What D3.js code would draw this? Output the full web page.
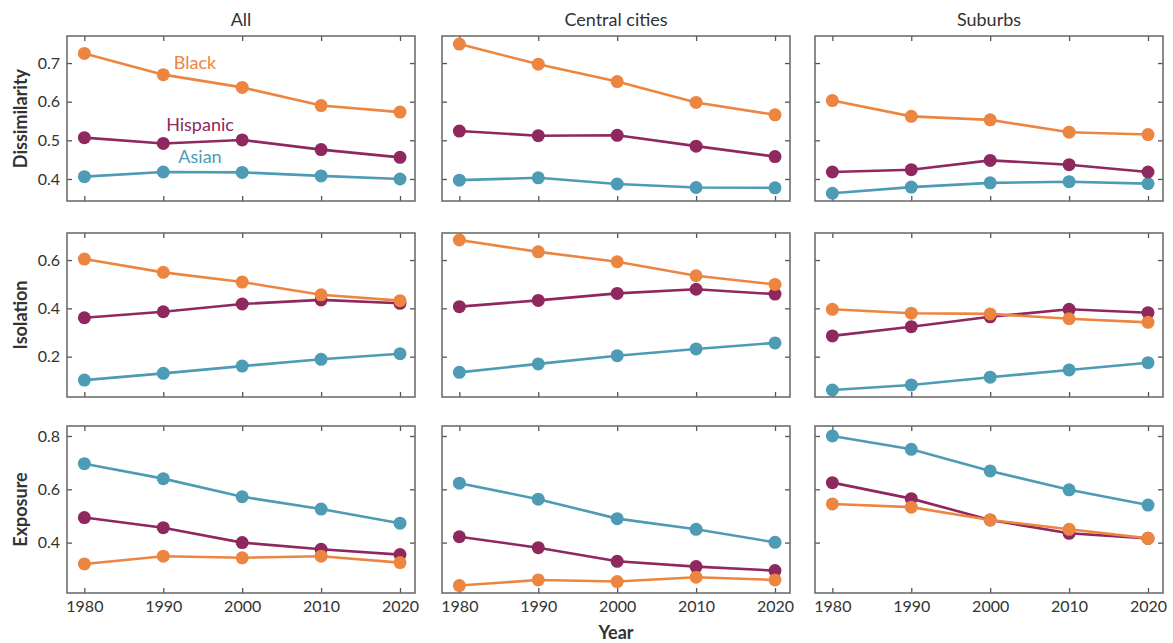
<!DOCTYPE html>
<html>
<head>
<meta charset="utf-8">
<script src="https://cdn.jsdelivr.net/npm/d3@7"></script>
<style>
  body { margin: 0; background: #fff; }
  svg text { font-family: Lato, "Open Sans", sans-serif; fill: #333; }
</style>
</head>
<body>
<div id="graph"></div>
<script>
const years = [1980, 1990, 2000, 2010, 2020];
const groups = ['Black', 'Hispanic', 'Asian'];
const columns = ['All', 'Central cities', 'Suburbs'];
const measures = ['Dissimilarity', 'Isolation', 'Exposure'];

// values per group: [Black, Hispanic, Asian]
const dissAll     = [[0.725, 0.670, 0.637, 0.590, 0.573], [0.507, 0.492, 0.501, 0.476, 0.456], [0.406, 0.418, 0.417, 0.408, 0.400]];
const dissCentral = [[0.749, 0.697, 0.652, 0.598, 0.566], [0.524, 0.512, 0.513, 0.485, 0.458], [0.397, 0.403, 0.387, 0.378, 0.377]];
const dissSuburbs = [[0.603, 0.562, 0.553, 0.521, 0.515], [0.418, 0.424, 0.448, 0.437, 0.418], [0.363, 0.379, 0.390, 0.393, 0.388]];

const isoAll     = [[0.604, 0.549, 0.509, 0.456, 0.432], [0.361, 0.386, 0.418, 0.435, 0.421], [0.103, 0.131, 0.161, 0.189, 0.212]];
const isoCentral = [[0.683, 0.634, 0.593, 0.535, 0.499], [0.407, 0.433, 0.462, 0.479, 0.459], [0.135, 0.170, 0.204, 0.232, 0.257]];
const isoSuburbs = [[0.396, 0.380, 0.377, 0.357, 0.342], [0.286, 0.324, 0.365, 0.396, 0.382], [0.062, 0.083, 0.115, 0.145, 0.175]];

const expAll     = [[0.320, 0.349, 0.343, 0.349, 0.325], [0.494, 0.456, 0.400, 0.375, 0.355], [0.696, 0.640, 0.572, 0.526, 0.473]];
const expCentral = [[0.239, 0.260, 0.254, 0.270, 0.260], [0.422, 0.381, 0.330, 0.310, 0.295], [0.623, 0.563, 0.490, 0.450, 0.401]];
const expSuburbs = [[0.545, 0.533, 0.485, 0.450, 0.416], [0.625, 0.565, 0.485, 0.435, 0.416], [0.800, 0.750, 0.669, 0.598, 0.541]];

const panels = [
  [dissAll, dissCentral, dissSuburbs],
  [isoAll, isoCentral, isoSuburbs],
  [expAll, expCentral, expSuburbs]
];

const yDomains = [[0.343, 0.770], [0.033, 0.712], [0.211, 0.8375]];
const yTicks = [[0.4, 0.5, 0.6, 0.7], [0.2, 0.4, 0.6], [0.4, 0.6, 0.8]];

const colors = {Black: '#EC8540', Hispanic: '#8E285E', Asian: '#4D9BB4'};

const w = 1173, h = 643;
const colX = [67, 442, 815];
const panelW = 348;
const rowY = [36, 233, 426];
const rowH = [165, 164, 167];

const svg = d3.select('#graph').append('svg')
  .attr('width', w).attr('height', h);

const xScale = d3.scaleLinear().domain([1977.8, 2021.9]).range([0, panelW]);

panels.forEach((row, r) => {
  const yScale = d3.scaleLinear().domain(yDomains[r]).range([rowH[r], 0]);

  row.forEach((series, c) => {
    const g = svg.append('g')
      .attr('transform', 'translate(' + colX[c] + ',' + rowY[r] + ')');

    // inward ticks on all sides
    g.append('g')
      .call(d3.axisLeft(yScale).tickValues(yTicks[r]).tickSizeInner(-5).tickSizeOuter(0)
        .tickPadding(7).tickFormat(c === 0 ? d3.format('.1f') : ''));
    g.append('g').attr('transform', 'translate(' + panelW + ',0)')
      .call(d3.axisRight(yScale).tickValues(yTicks[r]).tickSizeInner(-5).tickSizeOuter(0).tickFormat(''));
    g.append('g')
      .call(d3.axisTop(xScale).tickValues(years).tickSizeInner(-5).tickSizeOuter(0).tickFormat(''));
    g.append('g').attr('transform', 'translate(0,' + rowH[r] + ')')
      .call(d3.axisBottom(xScale).tickValues(years).tickSizeInner(-5).tickSizeOuter(0)
        .tickPadding(8).tickFormat(r === 2 ? d3.format('d') : ''));

    g.selectAll('.domain').remove();
    g.selectAll('.tick line').attr('stroke', '#555').attr('stroke-width', 1.3);
    g.selectAll('.tick text').style('font-size', '16px').attr('fill', '#333');

    g.append('rect')
      .attr('width', panelW).attr('height', rowH[r])
      .attr('fill', 'none').attr('stroke', '#666').attr('stroke-width', 1.5);

    const line = d3.line()
      .x((d, i) => xScale(years[i]))
      .y((d) => yScale(d));

    // draw Asian first, Black on top
    [2, 1, 0].forEach((k) => {
      const col = colors[groups[k]];
      g.append('path').datum(series[k])
        .attr('d', line).attr('fill', 'none')
        .attr('stroke', col).attr('stroke-width', 2.6);
      g.selectAll('.dot' + k).data(series[k]).enter().append('circle')
        .attr('cx', (d, i) => xScale(years[i]))
        .attr('cy', (d) => yScale(d))
        .attr('r', 6.5)
        .attr('fill', col);
    });
  });
});

// column titles
columns.forEach((t, c) => {
  svg.append('text')
    .attr('x', colX[c] + panelW / 2).attr('y', 26)
    .attr('text-anchor', 'middle')
    .style('font-size', '18px')
    .text(t);
});

// row titles
measures.forEach((t, r) => {
  svg.append('text')
    .attr('transform', 'translate(27,' + (rowY[r] + rowH[r] / 2) + ') rotate(-90)')
    .attr('text-anchor', 'middle')
    .style('font-size', '18px').style('font-weight', 'bold')
    .attr('fill', '#222')
    .text(t);
});

// group labels in first panel
const labelPos = [[195, 69], [200, 131], [200, 163]];
groups.forEach((gname, k) => {
  svg.append('text')
    .attr('x', labelPos[k][0]).attr('y', labelPos[k][1])
    .attr('text-anchor', 'middle')
    .style('font-size', '18px')
    .style('fill', colors[gname])
    .text(gname);
});

svg.append('text')
  .attr('x', colX[1] + panelW / 2).attr('y', 639)
  .attr('text-anchor', 'middle')
  .style('font-size', '18px').style('font-weight', 'bold')
  .attr('fill', '#222')
  .text('Year');
</script>
</body>
</html>
